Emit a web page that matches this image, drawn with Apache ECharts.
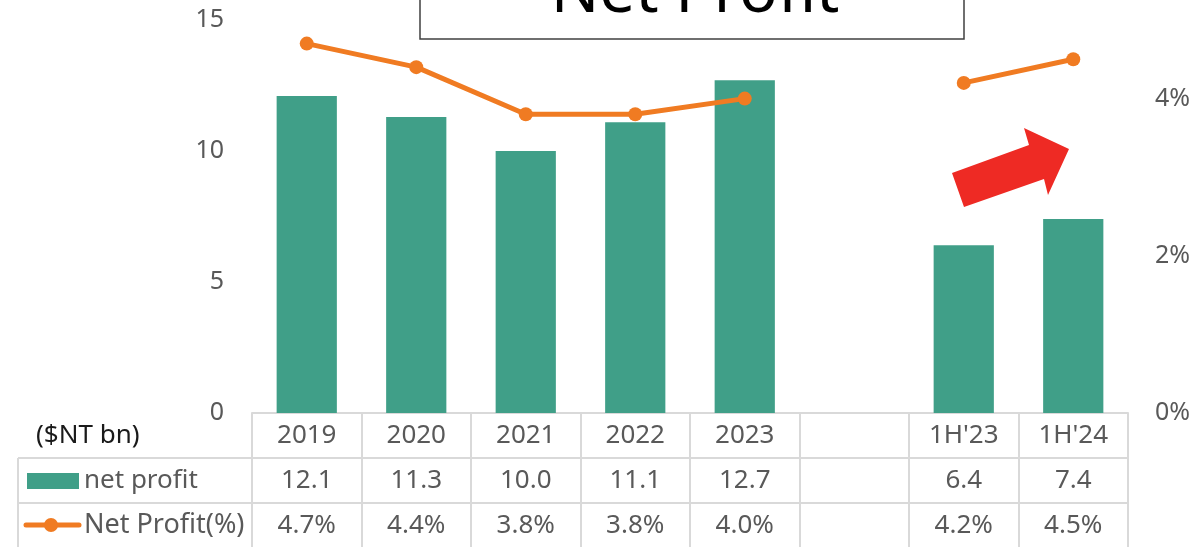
<!DOCTYPE html>
<html>
<head>
<meta charset="utf-8">
<script src="https://cdn.jsdelivr.net/npm/echarts@6/dist/echarts.min.js"></script>
<style>
  html, body { margin: 0; padding: 0; background: #fff; }
  #chart { width: 1203px; height: 547px; }
</style>
</head>
<body>
<div id="chart"></div>
<script>
// periods on the x axis (blank column separates full years from half years)
const categories = ["2019", "2020", "2021", "2022", "2023", "", "1H'23", "1H'24"];
// net profit, $NT bn
const netProfit = [12.1, 11.3, 10.0, 11.1, 12.7, "-", 6.4, 7.4];
// net profit margin, %
const netProfitPct = [4.7, 4.4, 3.8, 3.8, 4.0, "-", 4.2, 4.5];
const leftTicks = [0, 5, 10, 15];
const rightTickLabels = [0, 2, 4];

const green = "#409F88";
const orange = "#F07B22";
const grid = "#D9D9D9";
const txt = "#595959";
const font = "Noto Sans";

let myChart = echarts.init(document.getElementById("chart"));

myChart.setOption({
  animation: false,
  textStyle: { fontFamily: font },
  grid: { left: 252, right: 75, top: 20, bottom: 134 },
  xAxis: {
    type: "category",
    data: categories,
    axisLine: { lineStyle: { color: grid, width: 2 } },
    axisTick: {
      show: true,
      interval: 0,
      length: 134,
      lineStyle: { color: grid, width: 2 }
    },
    axisLabel: {
      interval: 0,
      margin: 0,
      formatter: function (v, i) {
        let b = netProfit[i] === "-" ? "" : netProfit[i].toFixed(1);
        let p = netProfitPct[i] === "-" ? "" : netProfitPct[i].toFixed(1) + "%";
        return "{a|" + v + "}\n{a|" + b + "}\n{a|" + p + "}";
      },
      rich: {
        a: { fontSize: 26, lineHeight: 45, color: txt, fontFamily: font, align: "center" }
      }
    }
  },
  yAxis: [
    {
      type: "value",
      min: leftTicks[0],
      max: leftTicks[leftTicks.length - 1],
      interval: 5,
      splitLine: { show: false },
      axisLine: { show: false },
      axisTick: { show: false },
      axisLabel: { color: txt, fontSize: 25, margin: 28 }
    },
    {
      type: "value",
      min: 0,
      max: 5,
      interval: 1,
      splitLine: { show: false },
      axisLine: { show: false },
      axisTick: { show: false },
      axisLabel: {
        color: txt,
        fontSize: 25,
        margin: 27,
        formatter: function (v) {
          return rightTickLabels.indexOf(v) >= 0 ? v + "%" : "";
        }
      }
    }
  ],
  series: [
    {
      name: "net profit",
      type: "bar",
      data: netProfit,
      barWidth: "55%",
      itemStyle: { color: green }
    },
    {
      name: "Net Profit(%)",
      type: "line",
      yAxisIndex: 1,
      data: netProfitPct,
      connectNulls: false,
      symbol: "circle",
      symbolSize: 14,
      lineStyle: { color: orange, width: 5 },
      itemStyle: { color: orange }
    }
  ],
  graphic: [
    // title box
    {
      type: "rect",
      shape: { x: 420, y: -10, width: 544, height: 49 },
      style: { fill: "#fff", stroke: "#404040", lineWidth: 1.5 },
      z: 10
    },
    {
      type: "text",
      x: 695,
      y: -6,
      style: {
        text: "Net Profit",
        fontSize: 64,
        fontFamily: font,
        fill: "#000",
        align: "center",
        verticalAlign: "middle"
      },
      z: 11
    },
    // red arrow
    {
      type: "polygon",
      shape: {
        points: [[952, 173], [1029, 145], [1024, 128], [1069, 149], [1048, 195], [1044, 179], [964, 207]]
      },
      style: { fill: "#EE2A24" },
      z: 10
    },
    // table rows
    { type: "line", shape: { x1: 18, y1: 458, x2: 1128, y2: 458 }, style: { stroke: grid, lineWidth: 2 } },
    { type: "line", shape: { x1: 18, y1: 503, x2: 1128, y2: 503 }, style: { stroke: grid, lineWidth: 2 } },
    { type: "line", shape: { x1: 18, y1: 458, x2: 18, y2: 547 }, style: { stroke: grid, lineWidth: 2 } },
    // left column labels
    {
      type: "text", x: 36, y: 436,
      style: { text: "($NT bn)", fontSize: 26, fontFamily: font, fill: "#1a1a1a", verticalAlign: "middle" }
    },
    { type: "rect", shape: { x: 27, y: 473, width: 52, height: 16 }, style: { fill: green } },
    {
      type: "text", x: 84, y: 481,
      style: { text: "net profit", fontSize: 26, fontFamily: font, fill: txt, verticalAlign: "middle" }
    },
    { type: "line", shape: { x1: 26, y1: 525, x2: 79, y2: 525 }, style: { stroke: orange, lineWidth: 5, lineCap: "round" } },
    { type: "circle", shape: { cx: 51, cy: 525, r: 7 }, style: { fill: orange } },
    {
      type: "text", x: 84, y: 525,
      style: { text: "Net Profit(%)", fontSize: 27, fontFamily: font, fill: txt, verticalAlign: "middle" }
    }
  ]
});
</script>
</body>
</html>
